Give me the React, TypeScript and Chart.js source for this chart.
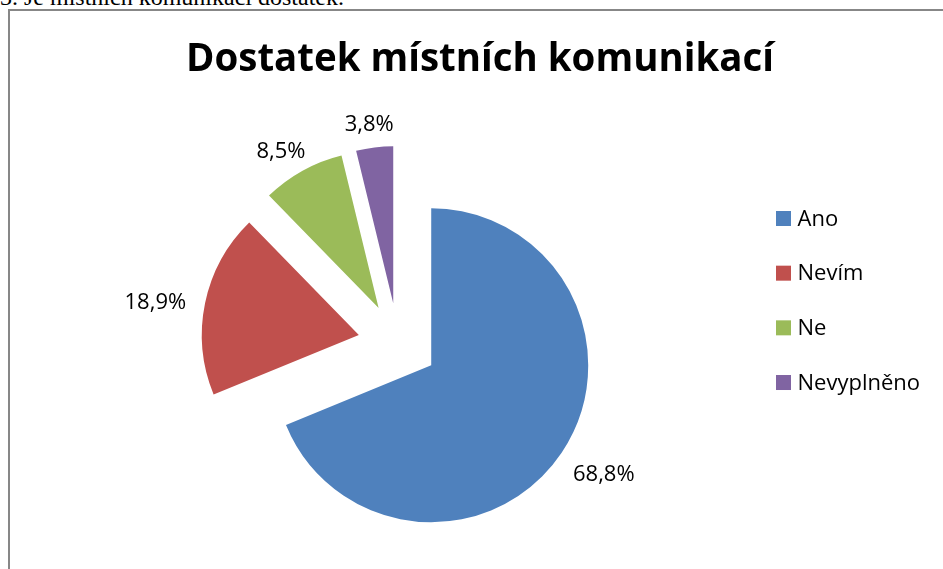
import React, { useEffect, useRef } from "react";
import { Chart, registerables, layouts } from "chart.js";

Chart.register(...registerables);

const HEADING = "3. Je místních komunikací dostatek.";
const TITLE = "Dostatek místních komunikací";
const LABELS = ["Ano", "Nevím", "Ne", "Nevyplněno"];
const VALUES = [68.8, 18.9, 8.5, 3.8];
const COLORS = ["#4F81BD", "#C0504D", "#9BBB59", "#8064A2"];

const EXPLODE = 40;
const FONT = "'Open Sans', 'Noto Sans', sans-serif";
const TITLE_FONT = "'Open Sans', 'Noto Sans', sans-serif";
const LEGEND_WIDTH = 164;

const explodePlugin = {
  id: "explode",
  beforeDatasetDraw(chart: any, args: any) {
    const ctx = chart.ctx;
    args.meta.data.forEach((arc: any) => {
      const mid = (arc.startAngle + arc.endAngle) / 2;
      ctx.save();
      ctx.translate(Math.cos(mid) * EXPLODE, Math.sin(mid) * EXPLODE);
      arc.draw(ctx);
      ctx.restore();
    });
    return false;
  },
};

const labelPlugin = {
  id: "pctLabels",
  afterDatasetsDraw(chart: any) {
    const ctx = chart.ctx;
    const meta = chart.getDatasetMeta(0);
    ctx.save();
    ctx.font = `22px ${FONT}`;
    ctx.fillStyle = "#000";
    ctx.textAlign = "center";
    ctx.textBaseline = "middle";
    meta.data.forEach((arc: any, i: number) => {
      const mid = (arc.startAngle + arc.endAngle) / 2;
      const dx = Math.cos(mid);
      const dy = Math.sin(mid);
      const ax = arc.x + dx * EXPLODE;
      const ay = arc.y + dy * EXPLODE;
      const text = VALUES[i].toFixed(1).replace(".", ",") + "%";
      const w = ctx.measureText(text).width;
      const d = arc.outerRadius + 20;
      const cx = ax + dx * d + dx * (w / 2);
      const cy = ay + dy * d + dy * 9 + 6;
      ctx.fillText(text, cx, cy);
    });
    ctx.restore();
  },
};

// Reserves the legend column on the right and draws the legend in it.
const sideLegendPlugin = {
  id: "sideLegend",
  beforeInit(chart: any) {
    const box: any = {
      position: "right",
      weight: 1000,
      fullSize: false,
      options: {},
      left: 0,
      top: 0,
      right: 0,
      bottom: 0,
      width: 0,
      height: 0,
      isHorizontal() {
        return false;
      },
      update(_maxWidth: number, maxHeight: number) {
        this.width = LEGEND_WIDTH;
        this.height = maxHeight;
      },
      draw() {
        const ctx = chart.ctx;
        ctx.save();
        ctx.font = `22px ${FONT}`;
        ctx.textAlign = "left";
        ctx.textBaseline = "middle";
        const x = this.left + 32.7;
        LABELS.forEach((label, i) => {
          const y = this.top + 43.7 + i * 54.67;
          ctx.fillStyle = COLORS[i];
          ctx.fillRect(x, y - 7.5, 15, 15);
          ctx.fillStyle = "#000";
          ctx.fillText(label, x + 21.5, y + 1);
        });
        ctx.restore();
      },
    };
    layouts.addBox(chart, box);
  },
};

function titleSize(): number {
  const c = document.createElement("canvas").getContext("2d");
  if (!c) return 39;
  c.font = `bold 40px ${TITLE_FONT}`;
  const w = c.measureText(TITLE).width;
  return w > 0 ? (40 * 588) / w : 39;
}

export default function App() {
  const ref = useRef<HTMLCanvasElement | null>(null);

  useEffect(() => {
    if (!ref.current) return;
    const size = titleSize();
    const lh = size * 1.2;
    const areaTop = 174.8;
    const padTop = 60 - lh / 2;
    const padBottom = areaTop - padTop - lh;
    const chart = new Chart(ref.current, {
      type: "pie",
      data: {
        labels: LABELS,
        datasets: [
          {
            data: VALUES,
            backgroundColor: COLORS,
            borderWidth: 0,
            radius: 157,
          } as any,
        ],
      },
      options: {
        responsive: false,
        animation: false,
        devicePixelRatio: 1,
        layout: { padding: { left: 52.7, right: 35.7, top: 0, bottom: 57.8 } },
        plugins: {
          legend: { display: false },
          tooltip: { enabled: false },
          title: {
            display: true,
            text: TITLE,
            align: "center",
            color: "#000",
            font: { family: TITLE_FONT, size, weight: "bold" },
            padding: { top: padTop, bottom: padBottom },
          },
        },
      },
      plugins: [sideLegendPlugin, explodePlugin, labelPlugin],
    });
    return () => chart.destroy();
  }, []);

  return (
    <div
      style={{
        position: "fixed",
        left: 0,
        top: 0,
        width: 943,
        height: 569,
        overflow: "hidden",
        background: "#fff",
      }}
    >
      <div
        style={{
          position: "absolute",
          left: 0,
          top: -15,
          font: "24px 'Liberation Serif', serif",
          lineHeight: "24px",
          whiteSpace: "nowrap",
          color: "#000",
        }}
      >
        {HEADING}
      </div>
      <div
        style={{
          position: "absolute",
          left: 8,
          top: 9,
          width: 1000,
          height: 1000,
          border: "2px solid #878787",
        }}
      />
      <canvas
        ref={ref}
        width={943}
        height={569}
        style={{ position: "absolute", left: 0, top: 0, width: 943, height: 569 }}
      />
    </div>
  );
}
